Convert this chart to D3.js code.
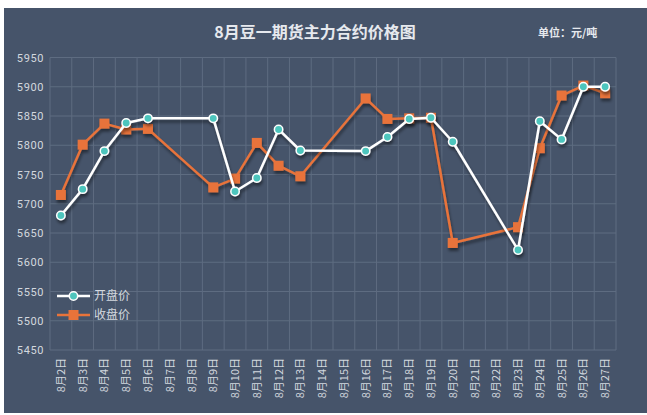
<!DOCTYPE html>
<html>
<head>
<meta charset="utf-8">
<script src="https://cdn.jsdelivr.net/npm/d3@7"></script>
<style>
  body { margin: 0; background: #fff; }
  svg { display: block; font-family: "Noto Sans CJK SC", "DejaVu Sans", sans-serif; }
</style>
</head>
<body>
<svg id="chart" width="647" height="415"></svg>
<script>
// categories (8月2日 .. 8月27日), missing days are null
var days = d3.range(2, 28).map(function(d){ return "8月" + d + "日" })
var openPrice = [5680, 5725, 5790, 5838, 5846, null, null, 5846, 5721, 5744, 5827, 5791,
  null, null, 5790, 5814, 5845, 5847, 5806, null, null, 5621, 5841, 5810, 5900, 5900]
var closePrice = [5715, 5801, 5837, 5827, 5828, null, null, 5728, 5743, 5804, 5765, 5747,
  null, null, 5880, 5845, 5846, 5847, 5633, null, null, 5660, 5795, 5885, 5902, 5889]
var yTicks = d3.range(5450, 5951, 50)
var seriesNames = ["开盘价", "收盘价"]

var W = 647, H = 415
var plot = { left: 50, right: 616, top: 57.5, bottom: 350 }
var bg = "#46546a", gridColor = "#5e6c81", textColor = "#d3d8df"
var openColor = "#4ec5bd", closeColor = "#e8733a"

var svg = d3.select("#chart")

var defs = svg.append("defs")
var shadow = defs.append("filter").attr("id", "shadow")
  .attr("x", "-20%").attr("y", "-20%").attr("width", "140%").attr("height", "160%")
shadow.append("feDropShadow")
  .attr("dx", 1).attr("dy", 3).attr("stdDeviation", 1.8)
  .attr("flood-color", "#000").attr("flood-opacity", 0.45)

svg.append("rect")
  .attr("x", 4).attr("y", 8).attr("width", W - 4).attr("height", 405)
  .attr("fill", bg)

var x = d3.scaleBand().domain(days).range([plot.left, plot.right])
var y = d3.scaleLinear().domain([5450, 5950]).range([plot.bottom, plot.top])

// grid
var grid = svg.append("g")
grid.selectAll(".hgrid").data(yTicks).enter().append("line")
  .attr("x1", plot.left).attr("x2", plot.right)
  .attr("y1", function(d){ return y(d) }).attr("y2", function(d){ return y(d) })
  .attr("stroke", gridColor).attr("stroke-width", 1)
grid.selectAll(".vgrid").data(days.concat(["end"])).enter().append("line")
  .attr("x1", function(d, i){ return plot.left + i * x.step() })
  .attr("x2", function(d, i){ return plot.left + i * x.step() })
  .attr("y1", plot.top).attr("y2", plot.bottom)
  .attr("stroke", gridColor).attr("stroke-width", 1)

// y axis
var yAxis = d3.axisLeft(y).tickValues(yTicks).tickFormat(d3.format("d")).tickSize(0).tickPadding(6)
var gy = svg.append("g").attr("transform", "translate(" + plot.left + ",0)").call(yAxis)
gy.select(".domain").remove()
gy.selectAll("text").attr("fill", textColor).attr("font-size", 11)
  .attr("font-family", "Roboto, sans-serif").attr("letter-spacing", 0.6)

// x axis labels, vertical
var gx = svg.append("g")
gx.selectAll("text").data(days).enter().append("text")
  .attr("transform", function(d){
    return "translate(" + (x(d) + x.bandwidth() / 2 + 4) + "," + (plot.bottom + 8) + ") rotate(-90)"
  })
  .attr("text-anchor", "end")
  .attr("fill", textColor).attr("font-size", 11)
  .text(function(d){ return d })

// title
svg.append("text").attr("x", 315).attr("y", 38).attr("text-anchor", "middle")
  .attr("fill", "#e6e9ee").attr("font-size", 16).attr("font-weight", "bold")
  .text("8月豆一期货主力合约价格图")
svg.append("text").attr("x", 538).attr("y", 37)
  .attr("fill", "#e6e9ee").attr("font-size", 11).attr("font-weight", "bold")
  .text("单位：元/吨")

function pts(values){
  return days.map(function(d, i){ return { day: d, v: values[i] } })
    .filter(function(p){ return p.v != null })
}
var line = d3.line()
  .x(function(p){ return x(p.day) + x.bandwidth() / 2 })
  .y(function(p){ return y(p.v) })

// close series (orange, drawn first)
var closePts = pts(closePrice)
var gClose = svg.append("g").attr("filter", "url(#shadow)")
gClose.append("path").datum(closePts).attr("d", line)
  .attr("fill", "none").attr("stroke", closeColor).attr("stroke-width", 2.5)
  .attr("stroke-linejoin", "round")
gClose.selectAll("rect").data(closePts).enter().append("rect")
  .attr("x", function(p){ return x(p.day) + x.bandwidth() / 2 - 5 })
  .attr("y", function(p){ return y(p.v) - 5 })
  .attr("width", 10).attr("height", 10)
  .attr("fill", closeColor)

// open series (white line, teal markers)
var openPts = pts(openPrice)
var gOpen = svg.append("g").attr("filter", "url(#shadow)")
gOpen.append("path").datum(openPts).attr("d", line)
  .attr("fill", "none").attr("stroke", "#ffffff").attr("stroke-width", 2.5)
  .attr("stroke-linejoin", "round")
gOpen.selectAll("circle").data(openPts).enter().append("circle")
  .attr("cx", function(p){ return x(p.day) + x.bandwidth() / 2 })
  .attr("cy", function(p){ return y(p.v) })
  .attr("r", 4.2)
  .attr("fill", openColor).attr("stroke", "#ffffff").attr("stroke-width", 1.5)

// legend
var legend = svg.append("g")
var legY = [296, 315]
legend.append("line").attr("x1", 57).attr("x2", 90).attr("y1", legY[0]).attr("y2", legY[0])
  .attr("stroke", "#ffffff").attr("stroke-width", 2.5)
legend.append("circle").attr("cx", 73.5).attr("cy", legY[0]).attr("r", 4.2)
  .attr("fill", openColor).attr("stroke", "#ffffff").attr("stroke-width", 1.5)
legend.append("line").attr("x1", 57).attr("x2", 90).attr("y1", legY[1]).attr("y2", legY[1])
  .attr("stroke", closeColor).attr("stroke-width", 2.5)
legend.append("rect").attr("x", 68.5).attr("y", legY[1] - 5).attr("width", 10).attr("height", 10)
  .attr("fill", closeColor)
legend.selectAll("text").data(seriesNames).enter().append("text")
  .attr("x", 94).attr("y", function(d, i){ return legY[i] + 4 })
  .attr("fill", textColor).attr("font-size", 12)
  .text(function(d){ return d })
</script>
</body>
</html>
